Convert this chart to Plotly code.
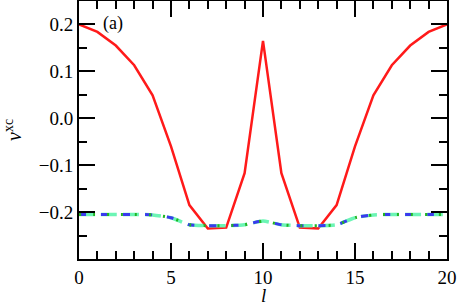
import plotly.graph_objects as go

l_vals = list(range(21))
v_exact = [0.200, 0.184, 0.155, 0.113, 0.049, -0.060, -0.185, -0.235, -0.233, -0.117,
           0.165, -0.117, -0.233, -0.235, -0.185, -0.060, 0.049, 0.113, 0.155, 0.184, 0.200]
v_approx = [-0.205, -0.205, -0.205, -0.205, -0.206, -0.212, -0.227, -0.229, -0.229, -0.227,
            -0.219, -0.227, -0.229, -0.229, -0.227, -0.212, -0.206, -0.205, -0.205, -0.205, -0.205]
v_approx2 = v_approx
v_approx3 = v_approx

fig = go.Figure()
fig.add_trace(go.Scatter(x=l_vals, y=v_exact, mode="lines",
                         line=dict(color="#ff1a1a", width=2.5)))
fig.add_trace(go.Scatter(x=l_vals, y=v_approx, mode="lines",
                         line=dict(color="#6cf5b5", width=3.5, dash="16px,6px", shape="spline", smoothing=0.6)))
fig.add_trace(go.Scatter(x=l_vals, y=v_approx2, mode="lines",
                         line=dict(color="#3a3aee", width=3, dash="7px,15px", shape="spline", smoothing=0.6)))
fig.add_trace(go.Scatter(x=l_vals, y=v_approx3, mode="lines",
                         line=dict(color="#22b522", width=3, dash="2px,12px", shape="spline", smoothing=0.6)))

serif = "'Liberation Serif', 'Times New Roman', 'DejaVu Serif', serif"
axis_common = dict(showgrid=False, zeroline=False, showline=True, linecolor="black", linewidth=1.8,
                   mirror="ticks", ticks="inside", ticklen=16, tickwidth=1.5, tickcolor="black",
                   automargin=False,
                   tickfont=dict(family=serif, size=19, color="black"))

fig.update_xaxes(range=[0, 20], tickvals=[0, 5, 10, 15, 20], ticktext=["0", "5", "10", "15", "20"],
                 minor=dict(dtick=1, ticks="inside", ticklen=8, tickwidth=1.5, tickcolor="black"),
                 **axis_common)
fig.update_yaxes(range=[-0.3, 0.25], tickvals=[-0.2, -0.1, 0.0, 0.1, 0.2],
                 ticktext=["\u22120.2", "\u22120.1", "0.0", "0.1", "0.2"],
                 minor=dict(dtick=0.05, tick0=0, ticks="inside", ticklen=8, tickwidth=1.5, tickcolor="black"),
                 **axis_common)

ph = 306 - 1 - 47
pw = 457 - 79 - 10

fig.add_annotation(x=(113 - 79) / pw, y=(259 - 23) / ph, xref="paper", yref="paper", text="(a)", showarrow=False,
                   font=dict(family=serif, size=18, color="black"), xanchor="center", yanchor="middle")
fig.add_annotation(x=0.5, y=-(295 - 259) / ph, xref="paper", yref="paper", text="<i>l</i>", showarrow=False,
                   font=dict(family=serif, size=19, color="black"), xanchor="center", yanchor="middle",
                   borderpad=0)
fig.add_annotation(x=-(79 - 13) / pw, y=(259 - 130) / ph, xref="paper", yref="paper",
                   text="<i>v</i><sup>xc</sup>", showarrow=False,
                   textangle=-90, font=dict(family=serif, size=20, color="black"),
                   xanchor="center", yanchor="middle")

fig.update_layout(width=457, height=306, margin=dict(l=79, r=10, t=1, b=47),
                  plot_bgcolor="white", paper_bgcolor="white", showlegend=False)

fig.write_html("out.html", config={"displayModeBar": False},
               post_script="document.body.style.margin='0';document.body.style.padding='0';")
